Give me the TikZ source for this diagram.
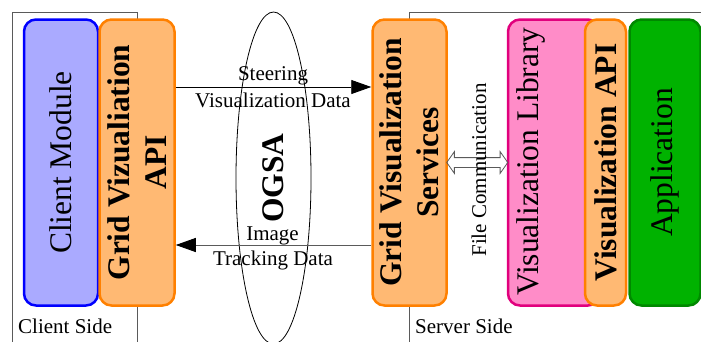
\documentclass[tikz,border=0pt]{standalone}
\usepackage{fontspec}
\setmainfont{Liberation Serif}
\usetikzlibrary{arrows.meta,shapes.geometric,shapes.arrows,calc}
\definecolor{cmfill}{RGB}{170,170,255}
\definecolor{cmdraw}{RGB}{0,0,255}
\definecolor{orfill}{RGB}{255,185,115}
\definecolor{ordraw}{RGB}{255,128,0}
\definecolor{pkfill}{RGB}{255,140,200}
\definecolor{pkdraw}{RGB}{225,0,125}
\definecolor{gnfill}{RGB}{0,178,0}
\definecolor{gndraw}{RGB}{0,136,0}
\definecolor{framec}{RGB}{90,90,90}
\begin{document}
\begin{tikzpicture}[x=1pt,y=-1pt,
  box/.style={rounded corners=12pt, line width=2.5pt, inner sep=0pt, minimum height=286pt},
  big/.style={font=\fontsize{31.5}{37}\selectfont, rotate=90, align=center, inner sep=0pt},
  bigb/.style={font=\fontsize{31.5}{37}\selectfont\bfseries, rotate=90, align=center, inner sep=0pt},
  lab/.style={font=\fontsize{21}{24}\selectfont, inner sep=0pt},
  frameline/.style={draw=framec, line width=0.8pt},
  flow/.style={line width=0.9pt, -{Triangle[length=20pt,width=14pt,color=black]}}
]
\useasboundingbox (0,0) rectangle (701,341);
% side frames
\draw[frameline] (12,350) -- (12,12) -- (137,12) -- (137,350);
\draw[frameline] (409,350) -- (409,12) -- (710,12);
\node[lab, anchor=base west] (cside) at (18,333) {Client Side};
\node[lab, anchor=base west] (sside) at (415,333) {Server Side};
% OGSA ellipse
\node[ellipse, draw, line width=0.8pt, rotate=90, minimum width=332pt, minimum height=75pt, inner sep=0pt,
      font=\fontsize{31.5}{37}\selectfont\bfseries] (ogsa) at (273.5,178) {OGSA};
% client boxes
\node[box, draw=cmdraw, fill=cmfill, minimum width=74pt] (cm) at (61,162.5) {};
\node[big] (cmt) at (cm.center) {Client Module};
\node[box, draw=ordraw, fill=orfill, minimum width=75pt] (gva) at (137,162.5) {};
\node[bigb] (gvat) at (gva.center) {Grid Vizualiation\\API};
% server boxes
\node[box, draw=ordraw, fill=orfill, minimum width=74pt] (gvs) at (409.5,162.5) {};
\node[bigb] (gvst) at (gvs.center) {Grid Visualization\\Services};
\node[box, draw=pkdraw, fill=pkfill, minimum width=92pt] (vl) at (554,162.5) {};
\node[big, anchor=base] (vlt) at (538,161.5) {Visualization Library};
\node[box, draw=ordraw, fill=orfill, minimum width=41pt] (va) at (605.5,162.5) {};
\node[bigb] (vat) at (va.center) {Visualization API};
\node[box, draw=gndraw, fill=gnfill, minimum width=71pt] (app) at (665,162.5) {};
\node[big] (appt) at (app.center) {Application};
% flows
\coordinate (ytop) at (0,87);
\coordinate (ybot) at (0,245);
\draw[flow] (gva.east |- ytop) -- (gvs.west |- ytop);
\draw[flow, draw=framec] (gvs.west |- ybot) -- (gva.east |- ybot);
\node[lab, anchor=base] (l1) at (273,80) {Steering};
\node[lab, anchor=base] (l2) at (273,107) {Visualization Data};
\node[lab, anchor=base] (l3) at (272.5,240) {Image};
\node[lab, anchor=base] (l4) at (273,265) {Tracking Data};
% file communication
\node[double arrow, draw=framec, line width=0.8pt, minimum height=61pt, inner sep=4.5pt,
      double arrow head extend=6pt, double arrow tip angle=110] (fca) at ($(gvs.east)!0.5!(vl.west)$) {};
\node[lab, rotate=90, anchor=base] (fct) at (486,170) {File Communication};
\end{tikzpicture}
\end{document}
